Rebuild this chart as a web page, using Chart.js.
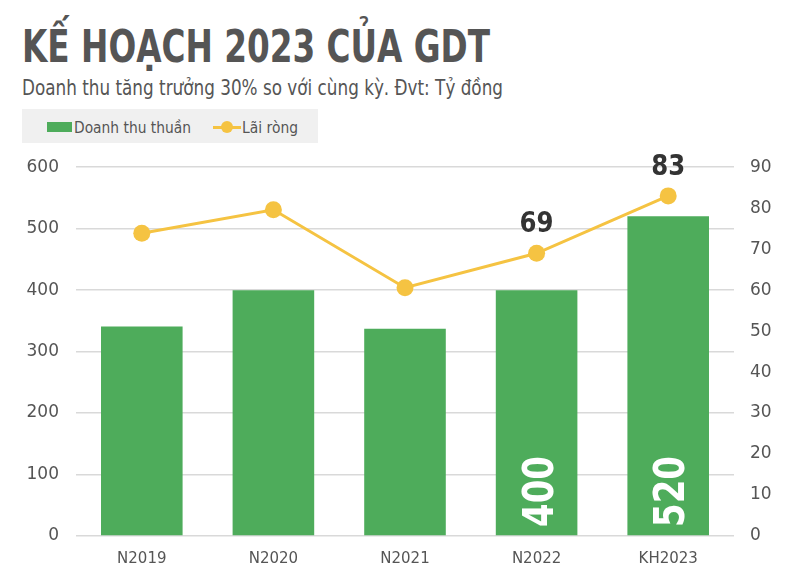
<!DOCTYPE html>
<html><head><meta charset="utf-8">
<script src="https://cdn.jsdelivr.net/npm/chart.js@4/dist/chart.umd.min.js"></script>
<style>
html,body{margin:0;padding:0;background:#fff;width:800px;height:586px;overflow:hidden;font-family:"DejaVu Sans",sans-serif;}
.fit{position:absolute;white-space:nowrap;transform-origin:0 0;display:inline-block;line-height:1}
#title{left:22px;top:20px;font:bold 45px "DejaVu Sans",sans-serif;color:#555;}
#sub{left:22px;top:75px;font:21.5px "DejaVu Sans",sans-serif;color:#555;}
#legend{position:absolute;left:22px;top:109px;width:296px;height:34px;background:#f0f0f0}
.li{font:16.5px "DejaVu Sans",sans-serif;color:#555;top:118px}
#wrap{position:absolute;left:0;top:140px;width:800px;height:446px}
canvas{display:block}
</style></head><body>
<div id="legend"></div>
<div style="position:absolute;left:47px;top:122px;width:25px;height:10px;background:#4EAC5B"></div>
<div style="position:absolute;left:213px;top:126px;width:28px;height:3px;background:#F5C342"></div>
<div style="position:absolute;left:221px;top:121px;width:12px;height:12px;border-radius:50%;background:#F5C342"></div>
<div class="fit" id="title" data-w="468">KẾ HOẠCH 2023 CỦA GDT</div>
<div class="fit" id="sub" data-w="481">Doanh thu tăng trưởng 30% so với cùng kỳ. Đvt: Tỷ đồng</div>
<div class="fit li" style="left:74px" id="l1" data-w="117"></div>
<div class="fit li" style="left:242px" id="l2" data-w="56"></div>
<div id="wrap"><canvas id="c" width="800" height="446"></canvas></div>
<script>
const categories = ["N2019","N2020","N2021","N2022","KH2023"];
const revenueLabel = "Doanh thu thuần";
const profitLabel = "Lãi ròng";
const revenue = [341, 400, 337, 400, 520];
const profit = [73.9, 79.6, 60.6, 69, 83];
const leftTicks = [0,100,200,300,400,500,600];
const rightTicks = [0,10,20,30,40,50,60,70,80,90];
const revenueLabelIdx = [3,4];
const profitLabelIdx = [3,4];

document.getElementById('l1').textContent = revenueLabel;
document.getElementById('l2').textContent = profitLabel;
document.querySelectorAll('.fit').forEach(el=>{
  const w = el.getBoundingClientRect().width;
  el.style.transform = 'scaleX(' + (parseFloat(el.dataset.w)/w) + ')';
});

function fitText(ctx, txt, x, y, targetW){
  const w = ctx.measureText(txt).width;
  ctx.save();
  ctx.translate(x, y);
  ctx.scale(targetW / w, 1);
  ctx.fillText(txt, 0, 0);
  ctx.restore();
}

const GREEN = "#4EAC5B", YELLOW = "#F5C342";
const labelPlugin = {
  id:'labels',
  afterDatasetsDraw(chart){
    const ctx = chart.ctx;
    ctx.save();
    const barMeta = chart.getDatasetMeta(1);
    revenueLabelIdx.forEach(i=>{
      const el = barMeta.data[i];
      ctx.save();
      ctx.translate(el.x, chart.scales.y.getPixelForValue(0) - 9);
      ctx.rotate(-Math.PI/2);
      ctx.font = "bold 42px 'DejaVu Sans', sans-serif";
      ctx.fillStyle = "#fff";
      ctx.textAlign = "left"; ctx.textBaseline = "alphabetic";
      fitText(ctx, String(revenue[i]), 0, 16, 71);
      ctx.restore();
    });
    const lineMeta = chart.getDatasetMeta(0);
    profitLabelIdx.forEach(i=>{
      const el = lineMeta.data[i];
      ctx.font = "bold 29px 'DejaVu Sans', sans-serif";
      ctx.fillStyle = "#333";
      ctx.textAlign = "left"; ctx.textBaseline = "alphabetic";
      const t = String(Math.round(profit[i]));
      fitText(ctx, t, el.x - 17, el.y - 21, 34);
    });
    ctx.restore();
  }
};

new Chart(document.getElementById('c'), {
  data:{
    labels: categories,
    datasets:[
      {type:'line', label:profitLabel, data:profit, yAxisID:'y1', borderColor:YELLOW, backgroundColor:YELLOW,
       borderWidth:3, pointRadius:8.5, pointHoverRadius:8.5, pointBackgroundColor:YELLOW, pointBorderWidth:0, tension:0, order:0},
      {type:'bar', label:revenueLabel, data:revenue, yAxisID:'y', backgroundColor:GREEN, borderWidth:0,
       barPercentage:0.62, categoryPercentage:1, order:1}
    ]
  },
  options:{
    responsive:false, animation:false, devicePixelRatio:1,
    layout:{padding:{top:16,left:0,right:0,bottom:0}},
    plugins:{legend:{display:false}, tooltip:{enabled:false}},
    scales:{
      x:{grid:{display:false, drawTicks:false}, border:{display:false},
         ticks:{color:"#555", font:{size:15, family:"'DejaVu Sans', sans-serif"}, padding:14},
         afterFit(s){ s.height = 50; }},
      y:{position:'left', min:0, max:600, afterBuildTicks(s){ s.ticks = leftTicks.map(v=>({value:v})); },
         grid:{color:"#d9d9d9", lineWidth:1.5, drawTicks:false}, border:{display:false},
         ticks:{color:"#555", font:{size:17, family:"'DejaVu Sans', sans-serif"}, padding:17},
         afterFit(s){ s.width = 76; }},
      y1:{position:'right', min:0, max:90, afterBuildTicks(s){ s.ticks = rightTicks.map(v=>({value:v})); },
         grid:{display:false, drawTicks:false}, border:{display:false},
         ticks:{color:"#555", font:{size:17, family:"'DejaVu Sans', sans-serif"}, padding:16},
         afterFit(s){ s.width = 66; }}
    }
  },
  plugins:[labelPlugin]
});
</script>
</body></html>
